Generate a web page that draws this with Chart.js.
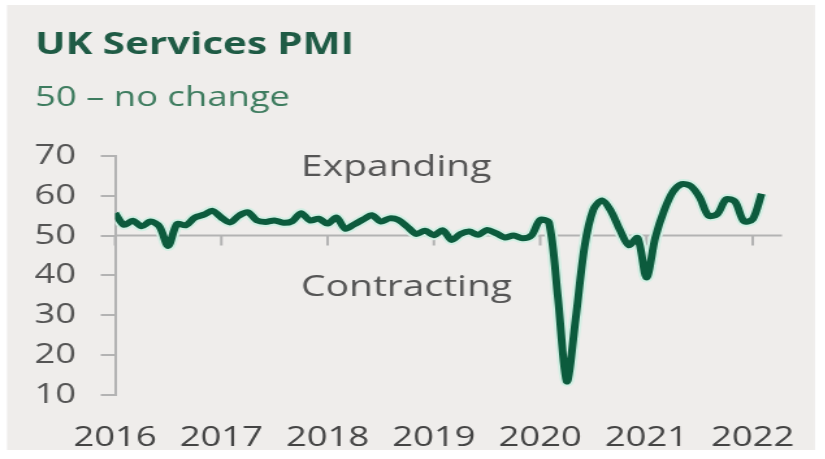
<!DOCTYPE html>
<html>
<head>
<meta charset="utf-8">
<script src="https://cdn.jsdelivr.net/npm/chart.js@4.4.0/dist/chart.umd.min.js"></script>
<style>
  html, body { margin: 0; padding: 0; background: #ffffff; }
  /* the source picture is stretched sideways, so the chart is drawn narrow and scaled */
  #wrap { position: absolute; left: 0; top: 0; width: 635px; height: 459px; transform: scaleX(1.3); transform-origin: 0 0; }
</style>
</head>
<body>
<div id="wrap"><canvas id="pmiChart"></canvas></div>
<script>
// UK services PMI, monthly, Jan 2016 - Feb 2022
const years = ['2016', '2017', '2018', '2019', '2020', '2021', '2022'];
const pmi = [
  55.6, 52.7, 53.7, 52.3, 53.5, 52.3, 47.4, 52.9, 52.6, 54.5, 55.2, 56.2,
  54.5, 53.3, 55.0, 55.8, 53.8, 53.4, 53.8, 53.2, 53.6, 55.6, 53.8, 54.2,
  53.0, 54.5, 51.7, 52.8, 54.0, 55.1, 53.5, 54.3, 53.9, 52.2, 50.4, 51.2,
  50.1, 51.3, 48.9, 50.4, 51.0, 50.2, 51.4, 50.6, 49.5, 50.0, 49.3, 50.0,
  53.9, 53.2, 34.5, 13.4, 29.0, 47.1, 56.5, 58.8, 56.1, 51.4, 47.6, 49.4,
  39.5, 49.5, 56.3, 61.0, 62.9, 62.4, 59.6, 55.0, 55.4, 59.1, 58.5, 53.6,
  54.1, 60.5
];
const yTicks = [10, 20, 30, 40, 50, 60, 70];
const noChange = 50;
// labels inside the plot: [text, month index, value]
const notes = [['Expanding', 21, 65], ['Contracting', 21, 34.8]];

const green = '#0c5b3d';
const axisGrey = '#b3b3b3';
const font = 'Open Sans';

const panel = {
  id: 'panel',
  beforeDraw(chart) {
    const c = chart.ctx;
    c.save();
    c.fillStyle = '#efedeb';
    c.fillRect(5.4, 5, 621.5, 445);
    c.restore();
  }
};

const baseline = {
  id: 'baseline',
  beforeDatasetsDraw(chart) {
    const c = chart.ctx, xs = chart.scales.x, ys = chart.scales.y;
    const y0 = ys.getPixelForValue(noChange);
    c.save();
    c.strokeStyle = axisGrey;
    c.lineWidth = 2;
    c.beginPath();
    c.moveTo(chart.chartArea.left, y0);
    c.lineTo(chart.chartArea.right, y0);
    years.forEach((yr, i) => {
      const x = xs.getPixelForValue(i * 12);
      c.moveTo(x, y0);
      c.lineTo(x, y0 + 10);
    });
    c.stroke();
    c.restore();
  },
  afterDraw(chart) {
    const c = chart.ctx, xs = chart.scales.x, ys = chart.scales.y;
    c.save();
    c.font = '30px "' + font + '"';
    c.fillStyle = '#555555';
    c.textBaseline = 'alphabetic';
    notes.forEach(n => c.fillText(n[0], xs.getPixelForValue(n[1]), ys.getPixelForValue(n[2])));
    c.restore();
  }
};

const points = pmi.map((v, i) => ({ x: i, y: v }));

new Chart(document.getElementById('pmiChart'), {
  type: 'line',
  data: {
    datasets: [{
      data: points,
      borderColor: green,
      borderWidth: 6,
      pointRadius: 0,
      tension: 0.3,
      fill: false,
      order: 1
    }, {
      // pale edge round the line, as in the source image
      data: points,
      borderColor: '#d3efe4',
      borderWidth: 10,
      pointRadius: 0,
      tension: 0.3,
      fill: false,
      order: 2
    }]
  },
  options: {
    responsive: true,
    maintainAspectRatio: false,
    animation: false,
    layout: { padding: { left: 27, right: 33.5, top: 0, bottom: 0 } },
    plugins: {
      legend: { display: false },
      tooltip: { enabled: false },
      title: {
        display: true, text: 'UK Services PMI', align: 'start', color: '#1f5b45',
        font: { family: font, size: 31, weight: 'bold' }, padding: { top: 27, bottom: 17 }
      },
      subtitle: {
        display: true, text: '50 – no change', align: 'start', color: '#3e7c5f',
        font: { family: font, size: 28 }, padding: { top: 0, bottom: 41 }
      }
    },
    scales: {
      x: {
        type: 'linear', min: 0, max: 75.3,
        afterBuildTicks: s => { s.ticks = years.map((y, i) => ({ value: i * 12 })); },
        afterFit: s => { s.height = 64; s.paddingRight = 0; },
        ticks: {
          callback: (v, i) => years[i], padding: 26, color: '#444444',
          font: { family: font, size: 28 }, maxRotation: 0, autoSkip: false
        },
        grid: { display: false, drawTicks: false },
        border: { display: false }
      },
      y: {
        min: 10, max: 70,
        afterBuildTicks: s => { s.ticks = yTicks.map(v => ({ value: v })); },
        afterFit: s => { s.width = 61.5; },
        ticks: { padding: 19, color: '#555555', font: { family: font, size: 28 } },
        grid: { drawOnChartArea: false, drawTicks: true, tickLength: 11, tickColor: axisGrey, lineWidth: 2 },
        border: { display: true, color: axisGrey, width: 2 }
      }
    }
  },
  plugins: [panel, baseline]
});
</script>
</body>
</html>
